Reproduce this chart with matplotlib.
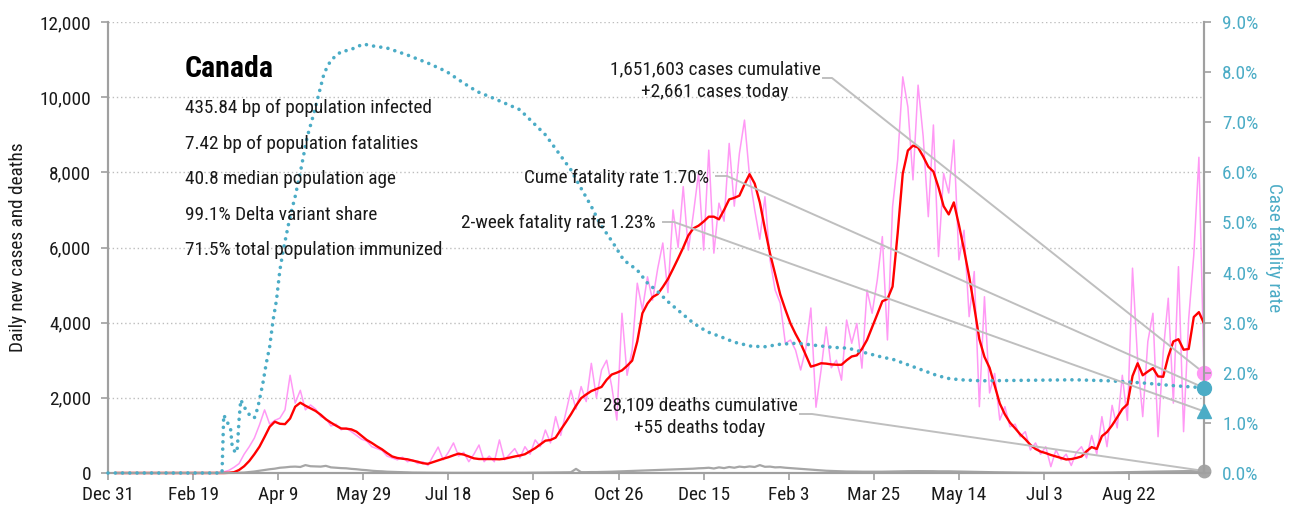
import os
import numpy as np
import matplotlib
matplotlib.use("Agg")
import matplotlib.pyplot as plt
from matplotlib import font_manager as fm

# ---------------------------------------------------------------------------
# Data (day 0 = Dec 31, 2019). Daily series are sampled every 3 days from day 5.
# ---------------------------------------------------------------------------
first_day, step = 5, 3

new_cases = [
    0, 0, 0, 0, 0, 0, 0, 0, 0, 0, 0, 0, 0, 0, 0, 0, 0, 0,
    0, 5, 10, 30, 70, 150, 250, 500, 700, 930,
    1280, 1680, 1300, 1400, 1460, 1680, 2600, 1860, 2200, 1680,
    1810, 1700, 1500, 1450, 1250, 1300, 1150, 1200, 1100, 1000,
    900, 850, 700, 650, 600, 450, 400, 350, 420, 300,
    350, 250, 300, 200, 450, 690, 350, 550, 800, 450,
    550, 300, 500, 745, 300, 450, 300, 880, 350, 500,
    650, 400, 700, 500, 880, 700, 1143, 800, 1500, 1000,
    1600, 2200, 1700, 2300, 1900, 2918, 2000, 2740, 3000, 2300,
    1410, 4250, 2600, 3270, 5050, 4340, 5220, 4600, 5440, 6120,
    4800, 7000, 6000, 7620, 5930, 6910, 7980, 5930, 8590, 5850,
    7180, 6700, 8770, 7100, 8500, 9390, 7880, 7000, 6220, 7350,
    5670, 4870, 4520, 3450, 3540, 3270, 2740, 3300, 4390, 1750,
    2740, 3890, 2800, 3000, 2470, 4070, 3450, 3980, 2790, 4870,
    4250, 5130, 6290, 3540, 7080, 8330, 10540, 9740, 7800, 10320,
    8950, 6820, 9260, 5760, 7970, 7450, 8860, 5670, 6460, 4160,
    5360, 1765, 4690, 2130, 2650, 1410, 1765, 1230, 1300, 966,
    1100, 612, 800, 500, 700, 168, 612, 350, 500, 200,
    550, 700, 400, 1000, 500, 1500, 700, 1800, 1200, 2600,
    1400, 5450, 3000, 1500, 3500, 4250, 966, 3200, 4650, 1860,
    5490, 1100, 4100, 5800, 8400, 2661,
]

avg_cases = [
    0, 0, 0, 0, 0, 0, 0, 0, 0, 0, 0, 0, 0, 0, 0, 0, 0, 0,
    0, 0, 0, 0, 5, 20, 80, 180, 320, 500,
    700, 960, 1230, 1365, 1310, 1300, 1450, 1765, 1870, 1790,
    1720, 1650, 1550, 1430, 1340, 1260, 1185, 1180, 1160, 1100,
    990, 880, 800, 710, 630, 530, 440, 400, 380, 364,
    330, 300, 260, 245, 290, 335, 380, 420, 470, 515,
    490, 440, 390, 372, 372, 372, 370, 364, 380, 410,
    440, 465, 500, 580, 660, 760, 860, 878, 940, 1150,
    1350, 1560, 1790, 1990, 2090, 2180, 2235, 2290, 2480, 2620,
    2670, 2730, 2850, 2990, 3500, 4250, 4510, 4680, 4760, 4950,
    5160, 5430, 5710, 6000, 6320, 6510, 6580, 6690, 6820, 6820,
    6750, 7000, 7280, 7320, 7380, 7680, 7950, 7700, 7200, 6500,
    5840, 5300, 4750, 4350, 3980, 3700, 3450, 3140, 2830, 2870,
    2920, 2910, 2890, 2880, 2880, 3000, 3100, 3130, 3300, 3540,
    3880, 4220, 4570, 4630, 4960, 6380, 7970, 8580, 8710, 8660,
    8420, 8150, 8020, 7600, 7100, 6880, 7200, 6600, 5940, 5230,
    4420, 3560, 3090, 2800, 2320, 1850, 1560, 1340, 1190, 1030,
    900, 750, 640, 570, 530, 480, 440, 400, 360, 370,
    400, 440, 580, 690, 640, 980, 1090, 1270, 1480, 1700,
    1830, 2580, 2920, 2600, 2700, 2790, 2570, 2560, 3100, 3500,
    3560, 3280, 3300, 4150, 4280, 3980,
]

new_deaths = [
    0, 0, 0, 0, 0, 0, 0, 0, 0, 0, 0, 0, 0, 0, 0, 0, 0, 0,
    0, 0, 0, 0, 1, 2, 6, 12, 25, 40,
    60, 80, 100, 115, 140, 150, 165, 170, 160, 210,
    180, 175, 170, 190, 150, 140, 130, 125, 110, 100,
    85, 75, 60, 50, 45, 35, 30, 25, 20, 15,
    12, 10, 10, 8, 7, 6, 6, 6, 5, 5,
    5, 5, 5, 5, 5, 5, 5, 5, 5, 5,
    6, 6, 7, 8, 9, 10, 12, 14, 15, 16,
    18, 20, 110, 22, 22, 25, 25, 28, 30, 35,
    40, 45, 50, 55, 60, 65, 70, 75, 80, 85,
    90, 95, 100, 105, 110, 115, 125, 130, 140, 120,
    150, 130, 160, 140, 170, 155, 175, 160, 210, 165,
    170, 150, 155, 140, 130, 120, 110, 100, 90, 80,
    70, 60, 55, 50, 45, 40, 40, 38, 35, 35,
    35, 35, 35, 38, 40, 42, 45, 48, 50, 50,
    50, 48, 48, 45, 45, 45, 42, 40, 38, 35,
    30, 28, 25, 22, 20, 18, 15, 13, 12, 10,
    8, 7, 6, 5, 5, 5, 5, 5, 5, 5,
    6, 6, 7, 8, 9, 10, 12, 14, 16, 20,
    22, 25, 28, 30, 32, 35, 38, 40, 42, 45,
    48, 50, 52, 55, 55, 55,
]

# Cumulative case fatality rate (%), irregular sample days
cfr_days = [0, 67, 68, 70, 72, 73, 75, 76, 77, 78,
            81, 84, 86, 88, 91, 93, 95, 97, 99, 101,
            103, 107, 110, 113, 117, 121, 124, 127, 131, 137,
            142, 150, 156, 164, 176, 188, 199, 209, 217, 225,
            242, 257, 272, 278, 284, 289, 297, 303, 311, 317,
            323, 329, 337, 344, 352, 360, 368, 378, 386, 395,
            405, 415, 425, 435, 446, 454, 462, 470, 478, 486,
            493, 501, 513, 540, 568, 588, 607, 627, 640, 644]
cfr_pct = [0, 0, 1.16, 1.02, 0.89, 0.52, 0.40, 0.50, 1.06, 1.46,
           1.26, 1.12, 1.10, 1.30, 1.79, 2.19, 2.52, 3.05, 3.45, 4.05,
           4.45, 5.12, 5.52, 6.00, 6.70, 7.18, 7.58, 7.98, 8.24, 8.41,
           8.44, 8.56, 8.52, 8.48, 8.34, 8.18, 8.01, 7.78, 7.61, 7.50,
           7.25, 6.75, 6.05, 5.68, 5.32, 4.98, 4.58, 4.25, 4.05, 3.79,
           3.62, 3.42, 3.19, 2.99, 2.82, 2.72, 2.61, 2.53, 2.52, 2.57,
           2.59, 2.55, 2.51, 2.49, 2.39, 2.32, 2.26, 2.16, 2.06, 1.96,
           1.89, 1.86, 1.84, 1.85, 1.86, 1.84, 1.80, 1.74, 1.71, 1.70]

last_day = 644
cases_today = 2661
deaths_today = 55
cume_cfr = 1.70
two_week_cfr = 1.23

x_tick_days = [0, 50, 100, 150, 200, 250, 300, 350, 400, 450, 500, 550, 600]
x_tick_labels = ["Dec 31", "Feb 19", "Apr 9", "May 29", "Jul 18", "Sep 6",
                 "Oct 26", "Dec 15", "Feb 3", "Mar 25", "May 14", "Jul 3", "Aug 22"]

stats_title = "Canada"
stats_lines = ["435.84 bp of population infected",
               "7.42 bp of population fatalities",
               "40.8 median population age",
               "99.1% Delta variant share",
               "71.5% total population immunized"]

cases_note = "1,651,603 cases cumulative\n+2,661 cases today"
deaths_note = "28,109 deaths cumulative\n+55 deaths today"
cume_note = "Cume fatality rate 1.70%"
two_week_note = "2-week fatality rate 1.23%"

# ---------------------------------------------------------------------------
# Typeface: prefer a narrow sans-serif face if one is installed
# ---------------------------------------------------------------------------
preferred_files = ["robotocondensed-regular.ttf", "liberationsansnarrow-regular.ttf",
                   "notosans-condensed.ttf", "dejavusanscondensed.ttf",
                   "opensans_condensed-regular.ttf", "notosans-semicondensed.ttf"]
by_file = {os.path.basename(f.fname).lower(): f for f in fm.fontManager.ttflist}
family, stretch = "DejaVu Sans", "normal"
for key in preferred_files:
    if key in by_file:
        family, stretch = by_file[key].name, by_file[key].stretch
        break
plt.rcParams["font.family"] = [family, "DejaVu Sans"]
plt.rcParams["font.stretch"] = stretch

PINK = "#FF99F5"
RED = "#FF0000"
GREY = "#A6A6A6"
TEAL = "#4BACC6"
LEADER = "#BFBFBF"
SPINE = "#A0A0A0"
TEXT = "#1A1A1A"

W, H = 1293, 512
fig = plt.figure(figsize=(W / 100, H / 100), dpi=100)

# Size the text so the first summary line spans about 248 px
renderer = fig.canvas.get_renderer()
probe = fig.text(0, 0, stats_lines[0], fontsize=15)
probe_w = probe.get_window_extent(renderer).width
probe.remove()
FS = min(16.5, 15 * 248 / probe_w)

ax = fig.add_axes([108 / W, 1 - 473 / H, (1204 - 108) / W, (473 - 22) / H])
ax2 = ax.twinx()

days = first_day + step * np.arange(len(new_cases))

ax.plot(days, new_cases, color=PINK, lw=1.1, zorder=2, clip_on=False)
ax.plot(days[:len(new_deaths)], new_deaths, color=GREY, lw=1.6, zorder=2, clip_on=False)
ax.plot(days[:len(avg_cases)], avg_cases, color=RED, lw=1.7, zorder=3, clip_on=False)
ax2.plot(cfr_days, cfr_pct, color=TEAL, lw=2.6, linestyle=(0, (0.01, 2.0)),
         dash_capstyle="round", zorder=3, clip_on=False)

# Axes limits and ticks
ax.set_xlim(0, last_day)
ax.set_ylim(0, 12000)
ax2.set_ylim(0, 9)
ax.set_xticks(x_tick_days)
ax.set_xticklabels(x_tick_labels)
ax.set_yticks(range(0, 12001, 2000))
ax.set_yticklabels([f"{v:,}" for v in range(0, 12001, 2000)])
ax2.set_yticks(range(0, 10))
ax2.set_yticklabels([f"{v:.1f}%" for v in range(0, 10)])

for a in (ax, ax2):
    a.spines["top"].set_visible(False)
    for side in ("left", "right", "bottom"):
        a.spines[side].set_color(SPINE)
        a.spines[side].set_linewidth(1.5)
ax.tick_params(axis="both", colors=SPINE, width=1.2, length=5, labelsize=FS)
ax.tick_params(axis="y", pad=7, labelcolor=TEXT)
ax.tick_params(axis="x", pad=4, labelcolor=TEXT)
ax2.tick_params(axis="y", colors=SPINE, width=1.2, length=5, labelsize=FS,
                pad=8, labelcolor=TEAL)

ax.yaxis.grid(True, color="#BDBDBD", linestyle=(0, (1, 2)), lw=1.0)
ax.set_axisbelow(True)

ax.set_ylabel("Daily new cases and deaths", fontsize=FS, color=TEXT, labelpad=9)
ax2.set_ylabel("Case fatality rate", fontsize=FS, color=TEAL, rotation=270,
               labelpad=18)

# End-of-series markers
ax.plot([last_day], [cases_today], "o", ms=10, color=PINK, zorder=6, clip_on=False)
ax.plot([last_day], [deaths_today], "o", ms=9, color=GREY, zorder=6, clip_on=False)
ax2.plot([last_day], [cume_cfr], "o", ms=10, color=TEAL, zorder=6, clip_on=False)
ax2.plot([last_day], [two_week_cfr], "^", ms=10, color=TEAL, zorder=6, clip_on=False)


def px(x, y):
    """Figure-fraction position from pixel coordinates measured from the top-left."""
    return x / W, 1 - y / H


def leader(axis, start_px, value, run):
    inv = axis.transData.inverted()
    p0 = inv.transform((start_px[0], H - start_px[1]))
    p1 = inv.transform((start_px[0] + run, H - start_px[1]))
    axis.plot([p0[0], p1[0], last_day], [p0[1], p1[1], value],
              color=LEADER, lw=1.4, zorder=5, clip_on=False)


leader(ax, (823, 78), cases_today, 9)
leader(ax2, (716, 176), cume_cfr, 11)
leader(ax2, (663, 222), two_week_cfr, 11)
leader(ax, (800, 414), deaths_today, 12)

# Annotation texts
fig.text(*px(715, 81), cases_note, fontsize=FS, color=TEXT, ha="center",
         va="center", linespacing=1.35)
fig.text(*px(709, 178), cume_note, fontsize=FS, color=TEXT, ha="right", va="center")
fig.text(*px(656, 223), two_week_note, fontsize=FS, color=TEXT, ha="right", va="center")
fig.text(*px(700, 417), deaths_note, fontsize=FS, color=TEXT, ha="center",
         va="center", linespacing=1.35)

# Country summary block
fig.text(*px(185, 69), stats_title, fontsize=FS * 1.55, weight="bold", color="black",
         ha="left", va="center")
for i, line in enumerate(stats_lines):
    fig.text(*px(185, 108 + 35.5 * i), line, fontsize=FS, color=TEXT,
             ha="left", va="center")

fig.savefig("out.png", dpi=100)
